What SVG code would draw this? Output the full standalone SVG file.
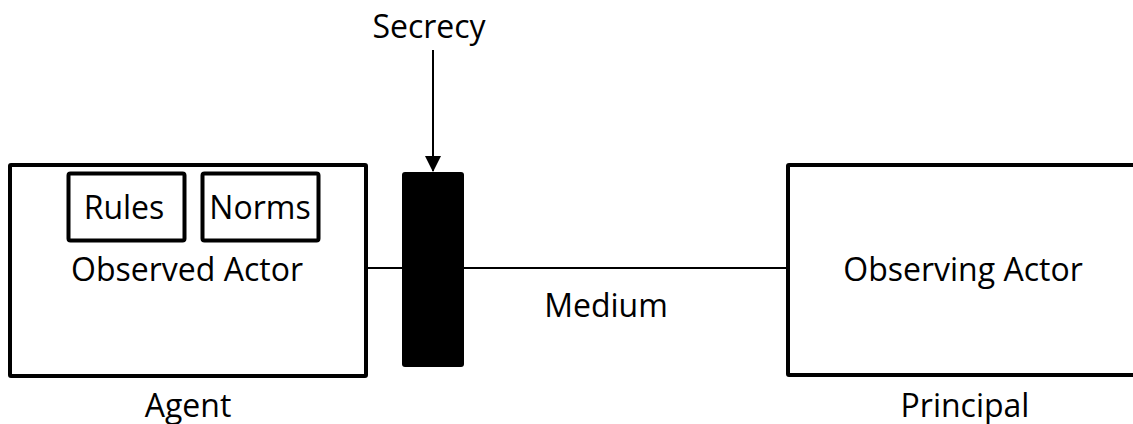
<svg xmlns="http://www.w3.org/2000/svg" width="1133" height="424" viewBox="0 0 1133 424">
<style>
text{font-family:"Open Sans","Noto Sans","Liberation Sans",sans-serif;font-size:32px;fill:#000;text-anchor:middle}
.box{fill:#fff;stroke:#000;stroke-width:4}
.line{stroke:#000;stroke-width:2;fill:none}
</style>
<defs>
<marker id="arr" markerWidth="8" markerHeight="8" refX="7.5" refY="4" orient="auto" markerUnits="strokeWidth">
<path d="M0,0 L8,4 L0,8 Z" fill="#000"/>
</marker>
</defs>
<g id="connectors">
<line class="line" x1="368" y1="268" x2="786" y2="268"/>
<line class="line" x1="433" y1="50" x2="433" y2="171" marker-end="url(#arr)"/>
</g>
<g id="observed-actor">
<rect class="box" x="10" y="165" width="356" height="211" rx="1"/>
<text x="187" y="281">Observed Actor</text>
</g>
<g id="rules">
<rect class="box" x="68.5" y="173.5" width="116" height="67" rx="2"/>
<text x="124" y="219">Rules</text>
</g>
<g id="norms">
<rect class="box" x="202.5" y="173.5" width="116" height="67" rx="2"/>
<text x="260" y="219">Norms</text>
</g>
<g id="secrecy-block">
<rect x="402" y="172" width="62" height="195" rx="3" fill="#000"/>
</g>
<g id="observing-actor">
<rect class="box" x="788" y="165" width="360" height="210" rx="1"/>
<text x="963" y="281">Observing Actor</text>
</g>
<g id="labels">
<text x="429" y="38">Secrecy</text>
<text x="606" y="317">Medium</text>
<text x="188" y="417">Agent</text>
<text x="965" y="417">Principal</text>
</g>
</svg>
